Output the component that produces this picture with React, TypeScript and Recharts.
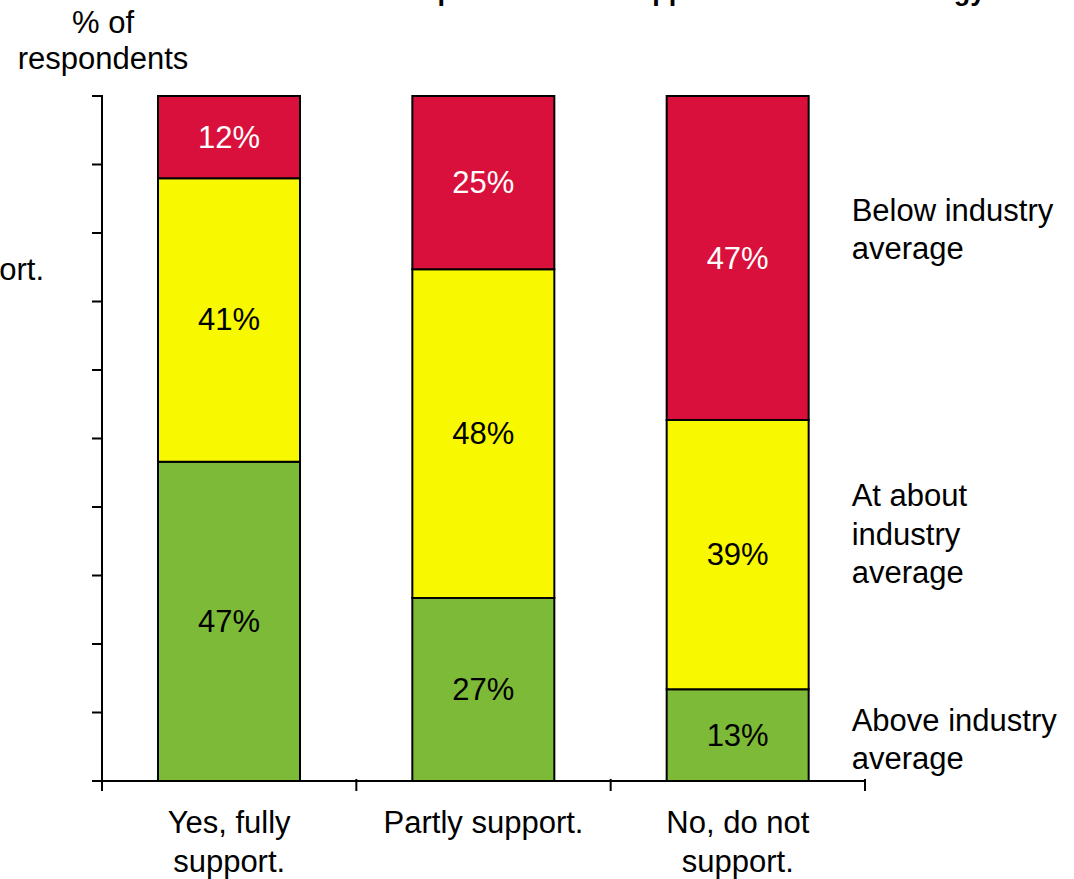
import React from 'react';
import { BarChart, Bar, XAxis, YAxis, LabelList, Customized } from 'recharts';

const categories = ['Yes, fully support.', 'Partly support.', 'No, do not support.'];
const categoryLines = [['Yes, fully', 'support.'], ['Partly support.'], ['No, do not', 'support.']];

// share of respondents (labels are rounded)
const aboveValues = [46.6, 26.7, 13.4];
const atValues = [41.4, 48.0, 39.3];
const belowValues = [12.0, 25.3, 47.3];

const seriesLines = {
  above: ['Above industry', 'average'],
  at: ['At about', 'industry', 'average'],
  below: ['Below industry', 'average'],
};

const yTicks = [0, 10, 20, 30, 40, 50, 60, 70, 80, 90, 100];

const FONT = 'Arial, "Liberation Sans", sans-serif';
const FS = 31;
const LINE = 38.5;
const Y_TICK = 10;

const data = categories.map((name, i) => ({
  name,
  above: aboveValues[i],
  at: atValues[i],
  below: belowValues[i],
}));

const axisStyle = { stroke: '#000', strokeWidth: 2 };

// y ticks: no labels; the axis line is drawn between the lowest and highest tick
const tickY: Record<number, number> = {};
const YTick = (props: any) => {
  const { x, y, payload } = props;
  const v = payload.value;
  tickY[v] = y;
  const lo = tickY[yTicks[0]];
  const hi = tickY[yTicks[yTicks.length - 1]];
  if ((v === yTicks[0] || v === yTicks[yTicks.length - 1]) && lo !== undefined && hi !== undefined) {
    const ax = x + Y_TICK;
    return <line x1={ax} x2={ax} y1={lo + 1} y2={hi - 1} stroke="#000" strokeWidth={2} />;
  }
  return <g />;
};

// category label plus tick marks on the band edges
const CategoryTick = (props: any) => {
  const { x, y, index, width, visibleTicksCount } = props;
  const band = width / visibleTicksCount;
  const lines = categoryLines[index] || [];
  const edges = [x - band / 2];
  if (index === visibleTicksCount - 1) edges.push(x + band / 2);
  return (
    <g>
      {edges.map((ex, i) => (
        <line key={i} x1={ex} x2={ex} y1={y - 2} y2={y + 10} stroke="#000" strokeWidth={2} />
      ))}
      <text x={x} y={y} textAnchor="middle" fontFamily={FONT} fontSize={FS} fill="#000">
        {lines.map((l, i) => (
          <tspan key={i} x={x} dy={i === 0 ? 52 : LINE}>
            {l}
          </tspan>
        ))}
      </text>
    </g>
  );
};

const valueLabel = (color: string) => (props: any) => {
  const { x, y, width, height, value } = props;
  return (
    <text
      x={x + width / 2}
      y={y + height / 2}
      textAnchor="middle"
      dominantBaseline="central"
      fontFamily={FONT}
      fontSize={FS}
      fill={color}
    >
      {Math.round(value)}%
    </text>
  );
};

const seriesLabel = (lines: string[], shift: number) => (props: any) => {
  const { x, y, width, height, index } = props;
  if (index !== categories.length - 1) return null;
  const cy = y + height / 2 + shift;
  const top = cy - ((lines.length - 1) * LINE) / 2;
  return (
    <text x={x + width + 43} y={top} fontFamily={FONT} fontSize={FS} fill="#000" dominantBaseline="central">
      {lines.map((l, i) => (
        <tspan key={i} x={x + width + 43} dy={i === 0 ? 0 : LINE}>
          {l}
        </tspan>
      ))}
    </text>
  );
};

const Extras = () => (
  <g fontFamily={FONT} fill="#000">
    <text x={274} y={0} fontSize={27} fontWeight="bold">
      Sales development versus support for the new strategy
    </text>
    <text x={103} y={33} fontSize={FS} textAnchor="middle">% of</text>
    <text x={103} y={69} fontSize={FS} textAnchor="middle">respondents</text>
    <text x={44} y={280} fontSize={FS} textAnchor="end">Partly support.</text>
  </g>
);

export default function App() {
  return (
    <div style={{ position: 'absolute', left: 0, top: 0, width: 1074, height: 879, overflow: 'hidden', background: '#fff' }}>
      <BarChart
        width={1074}
        height={879}
        data={data}
        margin={{ top: 96, right: 209, bottom: 8, left: 92 }}
        barSize={142}
      >
        <XAxis
          dataKey="name"
          height={90}
          axisLine={axisStyle}
          tickLine={false}
          tickSize={0}
          tickMargin={0}
          tick={<CategoryTick />}
          interval={0}
        />
        <YAxis
          domain={[0, 100]}
          ticks={yTicks}
          interval={0}
          width={10}
          tick={<YTick />}
          tickSize={Y_TICK}
          tickMargin={0}
          axisLine={axisStyle}
          tickLine={axisStyle}
        />
        <Bar dataKey="above" stackId="s" fill="#7DBA37" stroke="#000" strokeWidth={2} isAnimationActive={false}>
          <LabelList dataKey="above" content={valueLabel('#000')} />
          <LabelList dataKey="above" content={seriesLabel(seriesLines.above, 4)} />
        </Bar>
        <Bar dataKey="at" stackId="s" fill="#F8F800" stroke="#000" strokeWidth={2} isAnimationActive={false}>
          <LabelList dataKey="at" content={valueLabel('#000')} />
          <LabelList dataKey="at" content={seriesLabel(seriesLines.at, -21)} />
        </Bar>
        <Bar dataKey="below" stackId="s" fill="#D9103B" stroke="#000" strokeWidth={2} isAnimationActive={false}>
          <LabelList dataKey="below" content={valueLabel('#fff')} />
          <LabelList dataKey="below" content={seriesLabel(seriesLines.below, -29)} />
        </Bar>
        <Customized component={Extras} />
      </BarChart>
    </div>
  );
}
